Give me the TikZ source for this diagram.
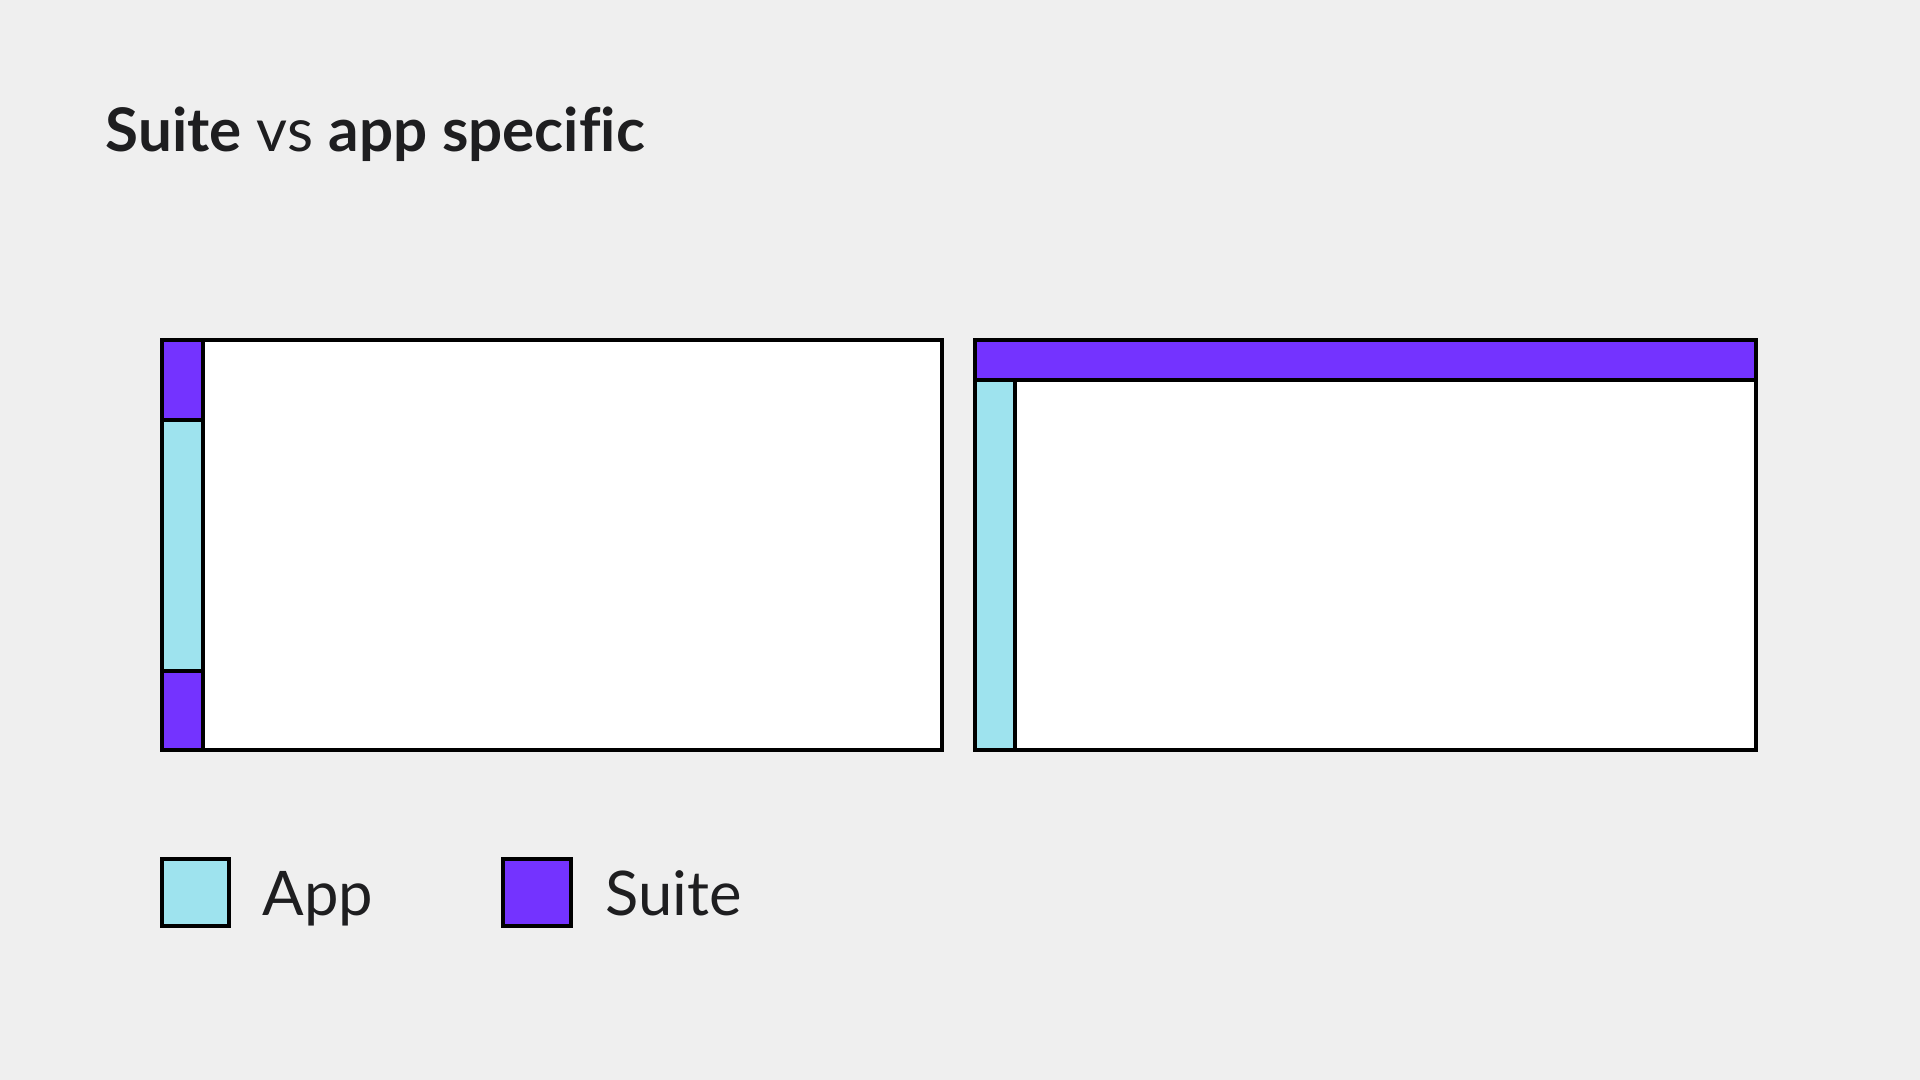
\documentclass[tikz,border=0pt]{standalone}
\usepackage{fontspec}
\setmainfont[Ligatures=NoCommon]{Lato}
\usetikzlibrary{positioning}
\definecolor{bgc}{RGB}{239,239,239}
\definecolor{suitec}{RGB}{116,51,255}
\definecolor{appc}{RGB}{158,227,238}
\definecolor{inkc}{RGB}{30,30,32}
\begin{document}
\begin{tikzpicture}[
    x=0.01cm, y=-0.01cm,
    % Styles
    frame/.style={draw=black, line width=0.4mm},
    suite/.style={fill=suitec},
    app/.style={fill=appc},
    divider/.style={draw=black, line width=0.4mm},
    swatch/.style={rectangle, draw=black, line width=0.4mm, minimum width=0.67cm, minimum height=0.67cm, inner sep=0pt},
    legendtext/.style={font=\fontsize{17.5pt}{20pt}\selectfont, text=inkc, inner sep=0pt, anchor=base west},
]
% === Background ===
\fill[bgc] (0,0) rectangle (1920,1080);
\useasboundingbox (0,0) rectangle (1920,1080);

% === Title ===
\node[font=\fontsize{17.1pt}{20pt}\selectfont, text=inkc, inner sep=0pt, anchor=base west] (title) at (105,152) {\textbf{Suite} vs \textbf{app specific}};

% === LEFT: app nav inside suite ===
\fill[white] (162,340) rectangle (942,750);
\fill[suite] (162,340) rectangle (203,420);
\fill[app] (162,420) rectangle (203,671);
\fill[suite] (162,671) rectangle (203,750);
\draw[divider] (203,340) -- (203,750);
\draw[divider] (162,420) -- (203,420);
\draw[divider] (162,671) -- (203,671);
\draw[frame] (162,340) rectangle (942,750);

% === RIGHT: suite bar on top ===
\fill[white] (975,340) rectangle (1756,750);
\fill[suite] (975,340) rectangle (1756,380);
\fill[app] (975,380) rectangle (1015,750);
\draw[divider] (975,380) -- (1756,380);
\draw[divider] (1015,380) -- (1015,750);
\draw[frame] (975,340) rectangle (1756,750);

% === Legend ===
\node[swatch, app] (appkey) at (195.5,892.5) {};
\node[legendtext] (applabel) at (262,916) {App};
\node[swatch, suite] (suitekey) at (537,892.5) {};
\node[legendtext] (suitelabel) at (605,916) {Suite};

\end{tikzpicture}
\end{document}
